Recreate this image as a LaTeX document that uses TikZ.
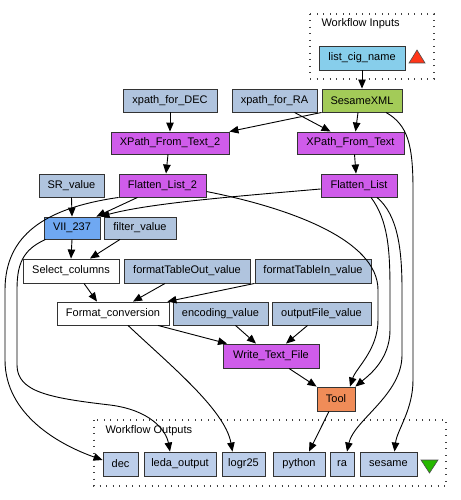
\documentclass[tikz,border=0pt]{standalone}
\usepackage{fontspec}
\setmainfont{Liberation Sans}
\usepackage{tikz}
\usetikzlibrary{arrows.meta}
\usepackage{xcolor}

\definecolor{valblue}{HTML}{B0C4DE}
\definecolor{outblue}{HTML}{BCCEEA}
\definecolor{portblue}{HTML}{87CEEB}
\definecolor{sesgreen}{HTML}{A3CB58}
\definecolor{xpmagenta}{HTML}{CF5CEA}
\definecolor{wsblue}{HTML}{6FA8F2}
\definecolor{toolorange}{HTML}{F08C58}

\begin{document}
\begin{tikzpicture}[x=1pt,y=-1pt,>={Triangle[length=9pt,width=7.5pt]},
  box/.style={draw=black!80,line width=0.9pt,minimum height=23pt,inner sep=0pt,
    font=\fontsize{11}{12}\selectfont},
  inval/.style={box,fill=valblue},
  outval/.style={box,fill=outblue},
  xproc/.style={box,fill=xpmagenta},
  plain/.style={box,fill=white},
  edge/.style={->,line width=0.9pt},
  clusterbox/.style={line width=1.1pt,dash pattern=on 1pt off 5.5pt,black!75}]
\useasboundingbox (0,0) rectangle (460,500);

% clusters
\draw[clusterbox] (310,14) rectangle (434,79);
\node[anchor=west,font=\fontsize{11}{12}\selectfont] (inlabel) at (318,24) {Workflow Inputs};
\draw[clusterbox] (94,420) rectangle (446,486);
\node[anchor=west,font=\fontsize{11}{12}\selectfont] (outlabel) at (102,431) {Workflow Outputs};

\node[box,fill=portblue,minimum width=86pt,minimum height=24pt] (lcn) at (362,58) {list\_cig\_name};
\draw[fill=red!75!orange!90,draw=black!70,line width=0.6pt] (409,63) -- (425,63) -- (417,50) -- cycle;

\node[box,fill=sesgreen,minimum width=80pt] (sxml) at (362,100.5) {SesameXML};
\node[inval,minimum width=94pt] (xdec) at (170,100.5) {xpath\_for\_DEC};
\node[inval,minimum width=85pt] (xra) at (274.5,100.5) {xpath\_for\_RA};

\node[xproc,minimum width=118pt,minimum height=22pt] (xft2) at (170,143) {XPath\_From\_Text\_2};
\node[xproc,minimum width=107pt,minimum height=22pt] (xft) at (350.5,143) {XPath\_From\_Text};

\node[inval,minimum width=65pt] (sr) at (71.5,185.5) {SR\_value};
\node[xproc,minimum width=87pt] (fl2) at (162.5,185.5) {Flatten\_List\_2};
\node[xproc,minimum width=76pt] (fl) at (359,185.5) {Flatten\_List};

\node[box,fill=wsblue,minimum width=56pt,minimum height=22pt] (vii) at (72,228) {VII\_237};
\node[inval,minimum width=72pt,minimum height=22pt] (filter) at (140,228) {filter\_value};

\node[plain,minimum width=96pt,minimum height=24pt] (sel) at (71,271) {Select\_columns};
\node[inval,minimum width=126pt,minimum height=24pt] (fto) at (187,271) {formatTableOut\_value};
\node[inval,minimum width=116pt,minimum height=24pt] (fti) at (313,271) {formatTableIn\_value};

\node[plain,minimum width=112pt] (fc) at (113,313.5) {Format\_conversion};
\node[inval,minimum width=95pt] (enc) at (220.5,313.5) {encoding\_value};
\node[inval,minimum width=99pt] (ofv) at (321.5,313.5) {outputFile\_value};

\node[xproc,minimum width=96pt,minimum height=24pt] (wtf) at (271,356) {Write\_Text\_File};
\node[box,fill=toolorange,minimum width=38pt,minimum height=24pt] (tool) at (336,399) {Tool};

\node[outval,minimum width=35pt,minimum height=24pt] (dec) at (120.5,464) {dec};
\node[outval,minimum width=72pt,minimum height=24pt] (leda) at (180,464) {leda\_output};
\node[outval,minimum width=43pt,minimum height=24pt] (logr) at (243.5,464) {logr25};
\node[outval,minimum width=52pt,minimum height=24pt] (python) at (299,464) {python};
\node[outval,minimum width=24pt,minimum height=24pt] (ra) at (342,464) {ra};
\node[outval,minimum width=57pt,minimum height=24pt] (sesame) at (388.5,464) {sesame};
\draw[fill=green!65!black!80!lime,draw=black!70,line width=0.6pt] (421,460) -- (438,460) -- (429.5,473) -- cycle;

% links
\draw[edge] (lcn.south) -- (sxml.north);
\draw[edge] (xdec.south) -- (xft2.north);
\draw[edge] (sxml.south west) -- (xft2.north east);
\draw[edge] ([xshift=20pt]xra.south) -- ([xshift=-20pt]xft.north);
\draw[edge] ([xshift=-4pt]sxml.south) -- ([xshift=5pt]xft.north);
\draw[edge] ([xshift=24pt]sxml.south) .. controls (408,125) and (413,145) .. (413,190)
  -- (413,380) .. controls (413,410) and (397,430) .. ([xshift=6pt]sesame.north);
\draw[edge] ([xshift=-2pt]xft2.south) -- ([xshift=3.5pt]fl2.north);
\draw[edge] ([xshift=4pt]xft.south) -- ([xshift=-3pt]fl.north);

\draw[edge] (sr.south) -- (vii.north);
\draw[edge] ([xshift=-25pt]fl2.south) -- ([xshift=-4pt]vii.north east);
\draw[edge] ([yshift=-3.5pt]fl.west) .. controls (240,196) and (150,203) .. (vii.north east);
\draw[edge] (fl2.south west) .. controls (45,208) and (5,235) .. (5,290)
  -- (5,360) .. controls (5,415) and (60,445) .. ([yshift=4pt]dec.west);
\draw[edge] ([yshift=-6pt]fl2.east) .. controls (290,208) and (378,240) .. (378,290)
  -- (378,320) .. controls (378,350) and (356,368) .. ([xshift=14pt]tool.north);
\draw[edge] ([xshift=12pt]fl.south) .. controls (388,220) and (390,250) .. (390,290)
  -- (390,330) .. controls (390,360) and (368,376) .. (tool.north east);
\draw[edge] ([xshift=18pt]fl.south) .. controls (398,215) and (402,250) .. (402,290)
  -- (402,355) .. controls (402,395) and (354,420) .. ([xshift=5pt]ra.north);

\draw[edge] (vii.south) -- (sel.north);
\draw[edge] ([xshift=-20pt]filter.south) -- ([xshift=19pt]sel.north);
\draw[edge] ([xshift=2pt]vii.south west) .. controls (22,250) and (17,265) .. (17,290)
  -- (17,365) .. controls (17,392) and (50,398) .. (110,405)
  .. controls (150,410) and (166,430) .. ([xshift=-10pt]leda.north);

\draw[edge] ([xshift=13pt]sel.south) -- ([xshift=-16pt]fc.north);
\draw[edge] ([xshift=-22pt]fto.south) -- ([xshift=20pt]fc.north);
\draw[edge] (fti.south west) -- ([xshift=-2pt]fc.north east);
\draw[edge] ([xshift=45pt]fc.south) -- ([xshift=-44pt]wtf.north);
\draw[edge] ([xshift=15pt]fc.south) .. controls (170,365) and (225,410) .. ([xshift=-11pt]logr.north);
\draw[edge] ([xshift=15pt]enc.south) -- ([xshift=-15pt]wtf.north);
\draw[edge] ([xshift=-14pt]ofv.south) -- ([xshift=15pt]wtf.north);
\draw[edge] ([xshift=18pt]wtf.south) -- (tool.north west);
\draw[edge] ([xshift=-7pt]tool.south) -- ([xshift=10pt]python.north);
\end{tikzpicture}
\end{document}
